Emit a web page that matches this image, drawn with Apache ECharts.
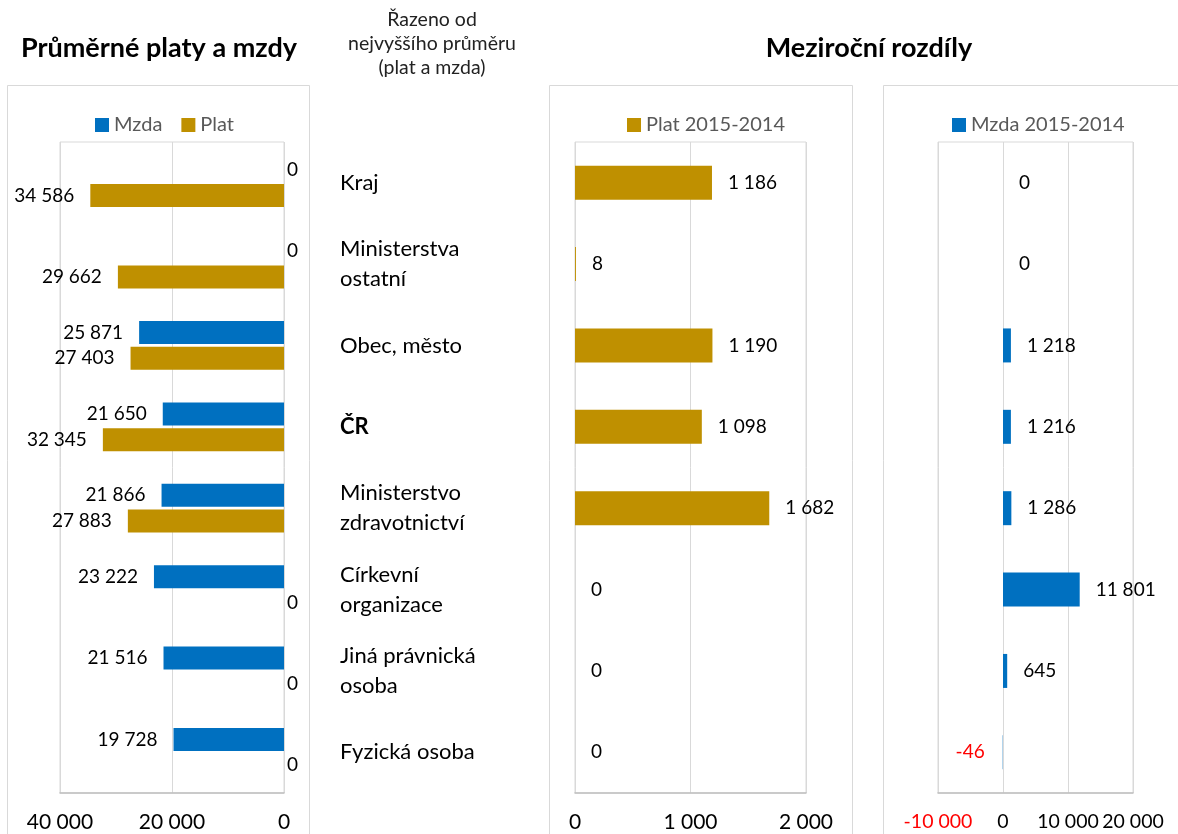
<!DOCTYPE html>
<html><head><meta charset="utf-8">
<script src="https://cdn.jsdelivr.net/npm/echarts@6/dist/echarts.min.js"></script>
<style>html,body{margin:0;padding:0;background:#fff}#c{width:1178px;height:834px}</style>
</head><body><div id="c"></div>
<script>
// ---- data ----
const categories = ['Kraj', 'Ministerstva\nostatní', 'Obec, město', 'ČR', 'Ministerstvo\nzdravotnictví', 'Církevní\norganizace', 'Jiná právnická\nosoba', 'Fyzická osoba'];
const mzda = [0, 0, 25871, 21650, 21866, 23222, 21516, 19728];
const plat = [34586, 29662, 27403, 32345, 27883, 0, 0, 0];
const platDiff = [1186, 8, 1190, 1098, 1682, 0, 0, 0];
const mzdaDiff = [0, 0, 1218, 1216, 1286, 11801, 645, -46];
const seriesNames = ['Mzda', 'Plat', 'Plat 2015-2014', 'Mzda 2015-2014'];
const titleLeft = 'Průměrné platy a mzdy';
const titleRight = 'Meziroční rozdíly';
const subtitle = 'Řazeno od\nnejvyššího průměru\n(plat a mzda)';

// ---- style ----
const BLUE = '#0070C0', GOLD = '#BF9000', RED = '#FF0000';
const FONT = 'Lato, "Noto Sans", sans-serif';
const GRID_C = '#d9d9d9', AXIS_C = '#bfbfbf';

function fmt(v) {
  const s = String(Math.abs(v)).replace(/\B(?=(\d{3})+(?!\d))/g, ' ');
  return (v < 0 ? '-' : '') + s;
}

const chart = echarts.init(document.getElementById('c'), null, {renderer: 'canvas'});

const TOP = 142, H = 651;
const grids = [
  {left: 60, width: 224, top: TOP, height: H},
  {left: 575, width: 231, top: TOP, height: H},
  {left: 938, width: 195, top: TOP, height: H}
].map(g => Object.assign({show: true, borderColor: GRID_C, borderWidth: 1, containLabel: false}, g));

function xAxis(i, min, max, interval, inverse, fontSize) {
  return {
    type: 'value', gridIndex: i, min: min, max: max, interval: interval, inverse: !!inverse,
    axisLine: {show: true, onZero: false, lineStyle: {color: AXIS_C, width: 1.5}},
    axisTick: {show: false},
    splitLine: {show: true, lineStyle: {color: GRID_C, width: 1}},
    axisLabel: {
      fontFamily: FONT, fontSize: fontSize, margin: 19, showMinLabel: true, showMaxLabel: true, hideOverlap: false,
      color: v => v < 0 ? RED : '#000',
      formatter: v => fmt(v)
    }
  };
}

function yAxis(i, showLabels) {
  return {
    type: 'category', gridIndex: i, data: categories, inverse: true,
    axisLine: {show: false}, axisTick: {show: false}, splitLine: {show: false},
    axisLabel: showLabels ? {
      show: true, align: 'left', margin: 235, fontFamily: FONT, fontSize: 22,
      lineHeight: 30, color: '#000',
      formatter: v => v === 'ČR' ? '{b|' + v + '}' : v,
      rich: {b: {fontWeight: 'bold', fontFamily: FONT, fontSize: 22, color: '#000'}}
    } : {show: false}
  };
}

const baseLabel = {show: true, fontFamily: FONT, fontSize: 19, color: '#000', formatter: p => fmt(p.value)};

function leftData(arr) {
  return arr.map(v => v === 0 ? {value: v, label: {position: 'right', distance: 3}} : {value: v});
}
function rightData(arr) {
  return arr.map(v => v < 0 ? {value: v, label: {position: 'left', distance: 18, color: RED}} : {value: v});
}

const legendText = {fontFamily: FONT, fontSize: 20, color: '#595959'};

const option = {
  animation: false,
  backgroundColor: '#fff',
  grid: grids,
  legend: [
    {data: [seriesNames[0], seriesNames[1]], left: 90, top: 110, icon: 'rect', itemWidth: 14, itemHeight: 14, itemGap: 19, textStyle: legendText},
    {data: [seriesNames[2]], left: 622, top: 110, icon: 'rect', itemWidth: 14, itemHeight: 14, textStyle: legendText},
    {data: [seriesNames[3]], left: 947, top: 110, icon: 'rect', itemWidth: 14, itemHeight: 14, textStyle: legendText}
  ],
  xAxis: [
    xAxis(0, 0, 40000, 20000, true, 21),
    xAxis(1, 0, 2000, 1000, false, 21),
    xAxis(2, -10000, 20000, 10000, false, 19.5)
  ],
  yAxis: [yAxis(0, false), yAxis(1, true), yAxis(2, false)],
  series: [
    {name: seriesNames[0], type: 'bar', xAxisIndex: 0, yAxisIndex: 0, data: leftData(mzda),
     barWidth: 23, barGap: '12%', itemStyle: {color: BLUE},
     label: Object.assign({}, baseLabel, {position: 'left', distance: 16})},
    {name: seriesNames[1], type: 'bar', xAxisIndex: 0, yAxisIndex: 0, data: leftData(plat),
     barWidth: 23, barGap: '12%', itemStyle: {color: GOLD},
     label: Object.assign({}, baseLabel, {position: 'left', distance: 16})},
    {name: seriesNames[2], type: 'bar', xAxisIndex: 1, yAxisIndex: 1, data: platDiff,
     barWidth: 34, itemStyle: {color: GOLD},
     label: Object.assign({}, baseLabel, {position: 'right', distance: 16})},
    {name: seriesNames[3], type: 'bar', xAxisIndex: 2, yAxisIndex: 2, data: rightData(mzdaDiff),
     barWidth: 34, itemStyle: {color: BLUE},
     label: Object.assign({}, baseLabel, {position: 'right', distance: 16})}
  ],
  graphic: [
    {type: 'rect', silent: true, z: -1, shape: {x: 7.5, y: 85.5, width: 302, height: 800}, style: {fill: 'none', stroke: GRID_C, lineWidth: 1}},
    {type: 'rect', silent: true, z: -1, shape: {x: 549.5, y: 85.5, width: 303, height: 800}, style: {fill: 'none', stroke: GRID_C, lineWidth: 1}},
    {type: 'rect', silent: true, z: -1, shape: {x: 883.5, y: 85.5, width: 310, height: 800}, style: {fill: 'none', stroke: GRID_C, lineWidth: 1}},
    {type: 'text', x: 159, y: 48, style: {text: titleLeft, fontFamily: FONT, fontSize: 27, fontWeight: 'bold', fill: '#000', textAlign: 'center', textVerticalAlign: 'middle'}},
    {type: 'text', x: 869, y: 48, style: {text: titleRight, fontFamily: FONT, fontSize: 27, fontWeight: 'bold', fill: '#000', textAlign: 'center', textVerticalAlign: 'middle'}},
    {type: 'text', x: 432, y: 44, style: {text: subtitle, fontFamily: FONT, fontSize: 19.5, lineHeight: 24, fill: '#222', textAlign: 'center', textVerticalAlign: 'middle'}}
  ]
};
chart.setOption(option);
</script>
</body></html>
